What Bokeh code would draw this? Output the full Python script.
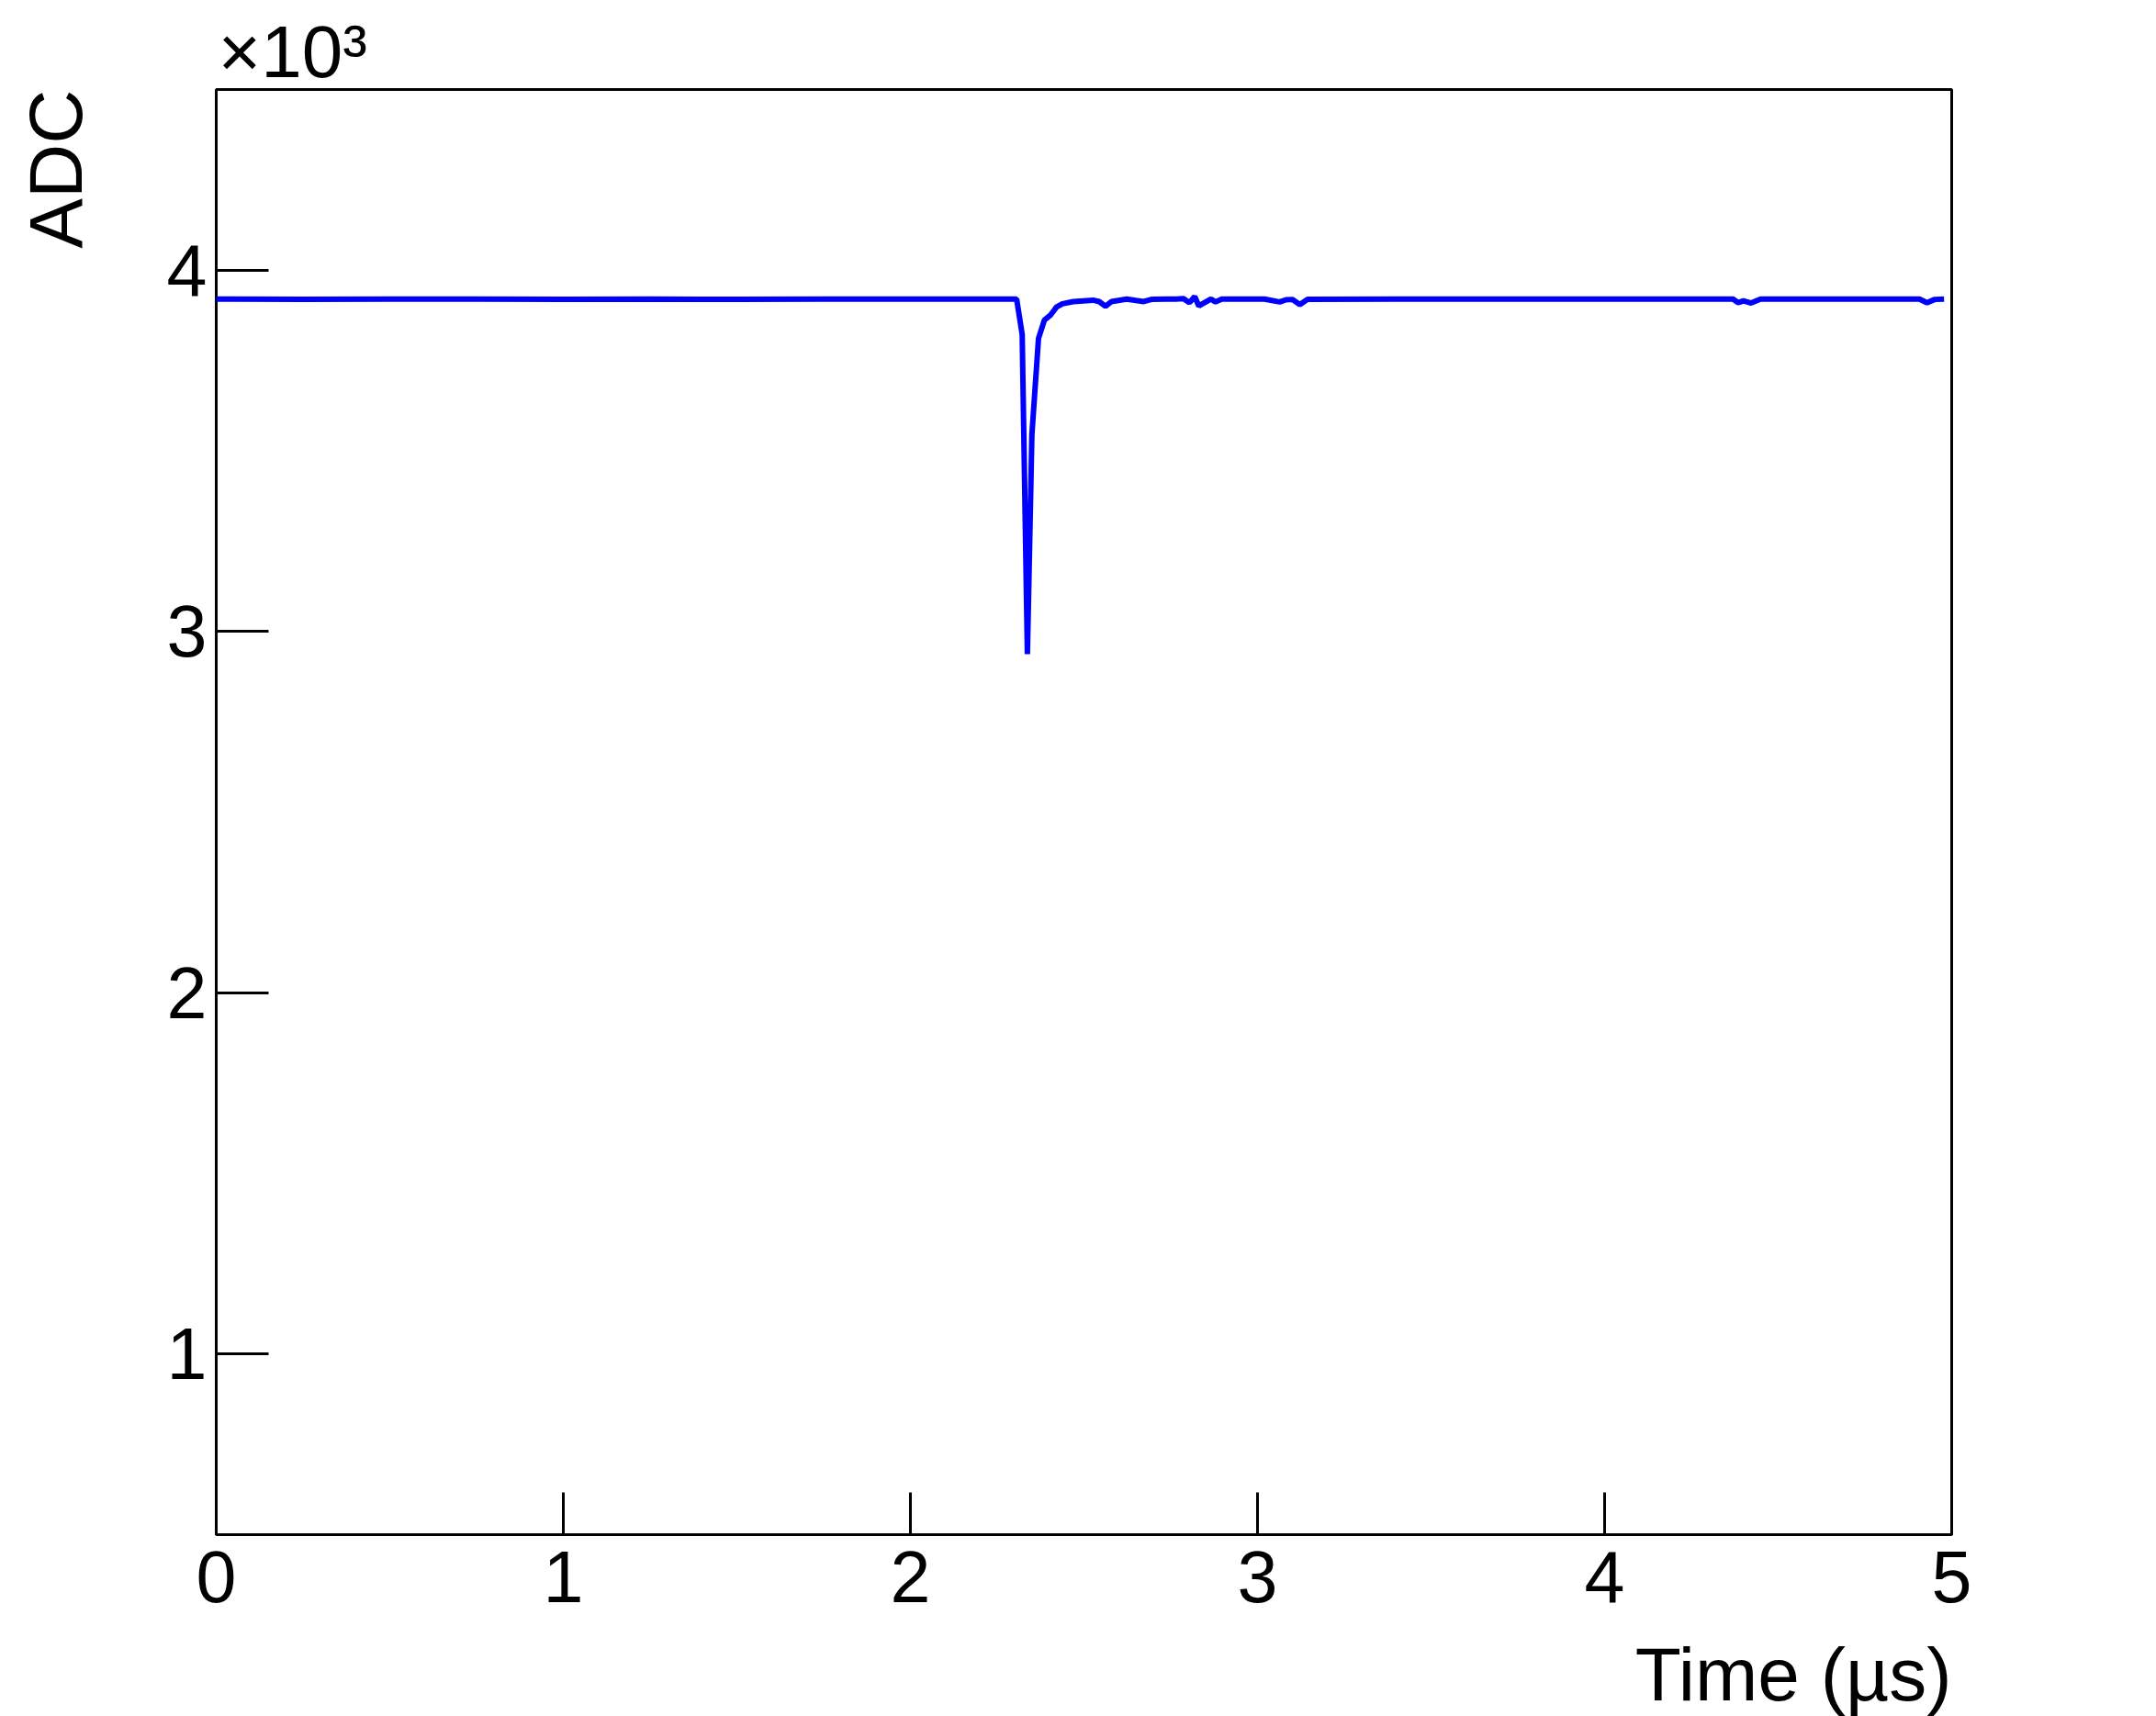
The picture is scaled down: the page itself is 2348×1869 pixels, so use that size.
from bokeh.plotting import figure
from bokeh.models import FixedTicker, Range1d, Title
from bokeh.embed import file_html
from bokeh.resources import INLINE

# Waveform vertices (time in microseconds, ADC counts)
time_us = [0.000, 0.250, 0.500, 0.750, 1.000, 1.250, 1.500, 1.750, 2.000, 2.306,
           2.322, 2.337, 2.350, 2.369, 2.386, 2.403, 2.421, 2.438, 2.469, 2.526,
           2.544, 2.562, 2.579, 2.623, 2.650, 2.672, 2.694, 2.738, 2.765, 2.787,
           2.804, 2.819, 2.831, 2.866, 2.879, 2.897, 3.020, 3.064, 3.082, 3.100,
           3.122, 3.144, 3.400, 3.700, 4.000, 4.370, 4.385, 4.400, 4.422, 4.449,
           4.700, 4.907, 4.929, 4.951, 4.978]
adc = [3920, 3919, 3920, 3920, 3919, 3920, 3919, 3920, 3920, 3920,
       3822, 2937, 3545, 3811, 3862, 3875, 3898, 3907, 3913, 3917,
       3913, 3900, 3913, 3920, 3916, 3913, 3919, 3920, 3920, 3921,
       3910, 3927, 3901, 3920, 3912, 3920, 3920, 3912, 3918, 3919,
       3905, 3919, 3920, 3920, 3920, 3920, 3910, 3915, 3909, 3920,
       3920, 3920, 3910, 3919, 3920]

x_ticks = [0, 1, 2, 3, 4, 5]
y_ticks = [1000, 2000, 3000, 4000]
y_tick_labels = ["1", "2", "3", "4"]
x_title = "Time (µs)"
y_title = "ADC"
y_scale_note = "×10³"

FONT = "Liberation Sans"

p = figure(frame_width=1890, frame_height=1574,
           min_border_left=235, min_border_right=200,
           min_border_top=97, min_border_bottom=198,
           x_range=Range1d(0, 5), y_range=Range1d(500, 4500),
           title_location=None,
           output_backend="svg", toolbar_location=None,
           background_fill_color="white", border_fill_color="white")

p.line(time_us, adc, line_color="#0000ff", line_width=6)

p.xgrid.visible = False
p.ygrid.visible = False
p.outline_line_color = "black"
p.outline_line_width = 3
p.outline_line_alpha = 1.0

for ax in (p.xaxis[0], p.yaxis[0]):
    ax.axis_line_color = None
    ax.minor_tick_line_color = None
    ax.major_tick_out = 0
    ax.major_tick_line_width = 3
    ax.major_tick_line_color = "black"
    ax.major_label_text_font = FONT
    ax.major_label_text_font_size = "79px"
    ax.major_label_text_color = "black"

p.xaxis[0].ticker = FixedTicker(ticks=x_ticks)
p.xaxis[0].major_tick_in = 46
p.xaxis[0].major_label_standoff = 18

p.yaxis[0].ticker = FixedTicker(ticks=y_ticks)
p.yaxis[0].major_label_overrides = {t: l for t, l in zip(y_ticks, y_tick_labels)}
p.yaxis[0].major_tick_in = 57
p.yaxis[0].major_label_standoff = 10

# Axis titles, aligned to the right / top end of the axes as in the reference
p.add_layout(Title(text=x_title, align="right", standoff=56,
                   text_font=FONT, text_font_size="82px",
                   text_font_style="normal", text_color="black"), "below")
# blank spacer between the y tick labels and the y title
p.add_layout(Title(text=" ", standoff=60, text_font=FONT, text_font_size="1px",
                   text_font_style="normal"), "left")
p.add_layout(Title(text=y_title, align="right", standoff=20,
                   text_font=FONT, text_font_size="82px",
                   text_font_style="normal", text_color="black"), "left")
# Scale factor of the y axis
p.add_layout(Title(text=y_scale_note, align="left", standoff=-6, offset=2,
                   text_font=FONT, text_font_size="80px",
                   text_font_style="normal", text_color="black"), "above")

open("out.html", "w").write(file_html(p, INLINE))
